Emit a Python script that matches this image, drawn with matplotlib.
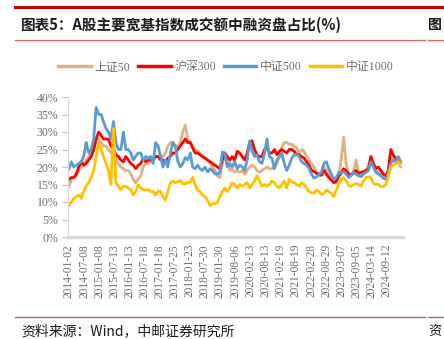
import matplotlib
matplotlib.use("Agg")
import matplotlib.pyplot as plt
import pandas as pd
from matplotlib.lines import Line2D

# ---------------- data (monthly readings, %) ----------------
start_month = "2014-01-01"

sz50 = [14.5, 16.5, 17, 17.5, 19, 20, 21, 22, 23, 24, 25, 28, 28, 27, 26, 26, 25, 24, 25,
        22, 21, 20, 19.5, 19, 19, 18, 16.5, 15.5, 16.5, 17.5, 20, 21, 21, 21.5, 22, 23, 23, 22.5, 23, 24, 26, 27, 27, 26,
        26, 27, 30, 32, 28, 27, 26, 25, 24.5, 24, 23, 22.5, 22, 21, 20, 19, 17.5, 17, 21, 23, 22,
        19, 19.5, 18.5, 19, 18.5, 19, 18, 19, 20, 20.5, 20, 19, 18.5, 19, 19.5, 20, 19.5, 19.5, 20, 21, 23, 25.5, 27,
        27, 26.5, 26.5, 26, 25.5, 24, 25, 24.5, 23, 22, 21, 20, 18.5, 17.5, 17.5, 20, 19, 18, 16.5, 15.5, 15.5, 17,
        22, 28.5, 21, 18, 17.5, 18.5, 22, 18.5, 18, 18.5, 19, 20.5, 22.5, 20, 19, 18.5, 18, 17.5, 17.5, 19, 22, 23, 22, 21.5, 20]

hs300 = [16.5, 17, 17, 18, 20, 21.5, 20.5, 21, 22, 23, 25, 28, 30, 29, 28, 28, 28, 26, 25,
         23.5, 23, 22, 21.5, 23, 22, 21, 20.5, 19.5, 20.5, 21, 22.5, 21.5, 22, 22, 22, 23, 23, 22, 22, 21.5, 22.5, 23, 24, 24,
         25, 26, 27, 28, 27, 27, 25.5, 24, 24, 23.5, 23, 22.5, 22, 21.5, 21, 20.5, 20, 19.5, 22, 24, 23,
         22, 23, 22, 24.5, 24, 23, 22, 24, 27, 27.5, 25, 23.5, 23, 23, 25, 25.5, 24, 24, 25, 23.5, 24.5, 25, 24.5,
         24, 25, 25, 24.5, 23.5, 23.5, 23, 22.5, 21.5, 20.5, 19, 18.7, 18.2, 18, 17.7, 19, 18, 17, 16.3, 15.5, 16, 17.5,
         18.2, 19.5, 19, 18, 17.7, 18.5, 19, 18.2, 18.5, 18.7, 19, 19.5, 23, 21, 19.6, 20, 19, 18, 17.5, 19, 25, 23.5, 22.5, 22, 21.5]

zz500 = [19.5, 21.5, 20, 20.5, 21, 21.5, 23, 27, 24, 25, 28, 37, 35, 35, 33, 31, 30, 28, 33,
         27, 25, 25, 30, 25, 25, 24, 22, 23, 24, 24, 22, 23, 22.5, 23, 21, 27, 26, 23, 20, 22, 20, 24, 27, 26,
         21.5, 20, 21, 22.7, 22, 24, 20, 19.5, 20.5, 19.5, 19, 20, 18.6, 19.5, 19, 18, 18, 18.6, 24.3, 24, 20,
         21, 20, 21.5, 19.5, 20.5, 20, 19, 22, 27.5, 24.5, 23, 23.5, 21.5, 21, 24, 28, 23, 22.5, 19.5, 22, 23, 24, 21,
         19, 20.5, 22.5, 23.5, 23.5, 23, 21.5, 21, 20.5, 19.5, 18, 16.8, 17.2, 17.8, 18.5, 21, 21.5, 19.5, 18, 16.5, 17, 18.5,
         18.2, 18.7, 18, 17, 17.5, 18.5, 18, 17.5, 17.2, 18, 18.5, 19, 21.5, 20, 18.5, 18, 17.5, 16.8, 16.5, 18.5, 21, 22, 21.5, 23, 21.5]

zz1000 = [9, 10, 11, 11.5, 12, 11, 13, 14.5, 15.5, 17, 19, 23, 27, 25, 23, 21, 19, 15, 31,
          15.5, 14.5, 13.5, 14.5, 14.5, 14, 13.5, 12, 13, 15, 14, 13.5, 13.5, 13.5, 13, 13, 12, 13, 13, 11.5, 10.5, 13, 15.5, 16, 15.5,
          15.8, 16.2, 15.2, 15.2, 15.5, 15.7, 17, 15, 13.4, 12.9, 12, 11.5, 10.5, 9, 9.5, 9.5, 10, 11.5, 13, 14, 13,
          14, 15.5, 15, 14, 15, 14.5, 15, 15.5, 14, 15, 16, 17.5, 16, 14.5, 15, 14.5, 15, 16, 15.5, 14.5, 14, 15, 16,
          14, 16.5, 15.8, 15.5, 15, 14.5, 15.5, 15, 14, 13, 12.7, 12.5, 13.4, 13, 12.2, 12.5, 13.4, 13, 12.5, 11.5, 13.5, 15,
          16.5, 17, 16, 14.8, 14.4, 15, 15.3, 15, 14.5, 16, 17, 17.2, 17, 15.3, 15, 15, 14.4, 14.4, 15, 17, 20, 20.5, 21, 21.5, 21]

series_names = ["上证50", "沪深300", "中证500", "中证1000"]
tick_labels = ["2014-01-02", "2014-07-08", "2015-01-08", "2015-07-13", "2016-01-13", "2016-07-18",
               "2017-01-18", "2017-07-25", "2018-01-23", "2018-07-30", "2019-01-30", "2019-08-06",
               "2020-02-13", "2020-08-13", "2021-02-19", "2021-08-19", "2022-02-28", "2022-08-29",
               "2023-03-07", "2023-09-05", "2024-03-14", "2024-09-12"]
y_ticks = [0, 5, 10, 15, 20, 25, 30, 35, 40]

title_text = "图表5：A股主要宽基指数成交额中融资盘占比(%)"
source_text = "资料来源：Wind，中邮证券研究所"

# ---------------- styling ----------------
colors = ["#DDB27C", "#FF0000", "#5B9BD5", "#FFC000"]
plt.rcParams['font.family'] = ['Liberation Serif', 'Noto Sans CJK SC']
grey = "#6E6E6E"

W, H = 444, 339
fig = plt.figure(figsize=(W / 100, H / 100), dpi=100)

ax = fig.add_axes([68 / W, 1 - 237 / H, (403 - 68) / W, (237 - 97) / H])
for vals, c, name in zip([sz50, hs300, zz500, zz1000], colors, series_names):
    dates = pd.date_range(start_month, periods=len(vals), freq="MS") + pd.Timedelta(days=1)
    ax.plot(dates, vals, color=c, lw=2.0, label=name, solid_joinstyle="round")

ax.set_ylim(0, 40)
ax.set_xlim(pd.Timestamp("2013-12-21"), pd.Timestamp("2025-04-01"))
ax.set_yticks(y_ticks)
ax.set_yticklabels([f"{v}%" for v in y_ticks], fontsize=8.5, color=grey)
tick_dates = [pd.Timestamp(t) for t in tick_labels]
ax.set_xticks(tick_dates)
ax.set_xticklabels(tick_labels, rotation=90, fontsize=8.3, color=grey)
ax.tick_params(axis="x", length=0, pad=5)
ax.tick_params(axis="y", length=4, width=0.8, color="#BFBFBF", pad=3)
for s in ["top", "right"]:
    ax.spines[s].set_visible(False)
ax.spines["left"].set_color("#D9D9D9")
ax.spines["left"].set_linewidth(0.8)
ax.spines["bottom"].set_color("#D9D9D9")
ax.spines["bottom"].set_linewidth(2.5)

# legend
handles = [Line2D([0], [0], color=c, lw=2.5) for c in colors]
fig.legend(handles, series_names, loc="center", bbox_to_anchor=(226 / W, 1 - 67 / H),
           ncol=4, frameon=False, fontsize=8.6, handlelength=2.7, columnspacing=0.7,
           handletextpad=0.3, labelcolor=grey)

# header / footer decorations
dark_red = "#C00000"
fig.add_artist(Line2D([15 / W, 425 / W], [1 - 7 / H, 1 - 7 / H], color=dark_red, lw=2.2))
fig.add_artist(Line2D([428 / W, 1], [1 - 7 / H, 1 - 7 / H], color=dark_red, lw=2.2))
fig.add_artist(Line2D([15 / W, 425 / W], [1 - 40 / H, 1 - 40 / H], color="#E06666", lw=0.9))
fig.add_artist(Line2D([428 / W, 1], [1 - 40 / H, 1 - 40 / H], color="#E06666", lw=0.9))
fig.add_artist(Line2D([15 / W, 425 / W], [1 - 317 / H, 1 - 317 / H], color="#C0504D", lw=0.9))
fig.add_artist(Line2D([428 / W, 1], [1 - 317 / H, 1 - 317 / H], color="#C0504D", lw=0.9))

cjk = ['Noto Sans CJK SC', 'DejaVu Sans']
fig.text(21 / W, 1 - 25 / H, title_text, fontsize=10.5, fontweight="bold",
         family=cjk, va="center", ha="left", color="#1a1a1a")
fig.text(442 / W, 1 - 25 / H, "图", fontsize=10, fontweight="bold",
         family=cjk, va="center", ha="right", color="#1a1a1a")
fig.text(21 / W, 1 - 331 / H, source_text, fontsize=10, family=cjk,
         va="center", ha="left", color="#1a1a1a")
fig.text(442 / W, 1 - 331 / H, "资", fontsize=9.5, family=cjk,
         va="center", ha="right", color="#1a1a1a")

fig.savefig("out.png", dpi=100)
